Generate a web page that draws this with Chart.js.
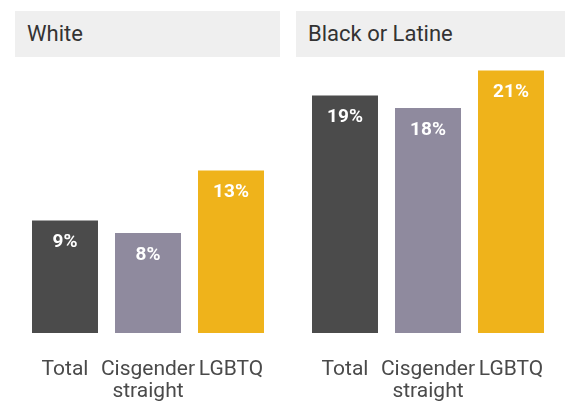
<!DOCTYPE html>
<html>
<head>
<meta charset="utf-8">
<script src="https://cdn.jsdelivr.net/npm/chart.js@4"></script>
<style>
  html, body { margin: 0; padding: 0; background: #ffffff; }
  body { width: 565px; height: 402px; position: relative; overflow: hidden; font-family: Roboto, sans-serif; }
  .hdr { position: absolute; top: 11px; height: 46px; background: #efefef; color: #333333;
         font-size: 22px; line-height: 46px; padding-left: 12px; box-sizing: border-box; z-index: 2; }
  .wrap { position: absolute; top: 0; height: 402px; }
</style>
</head>
<body>
<div class="hdr" style="left:15px;width:265px;">White</div>
<div class="hdr" style="left:296px;width:269px;">Black or Latine</div>
<div class="wrap" style="left:0;width:290px;"><canvas id="c1"></canvas></div>
<div class="wrap" style="left:280px;width:285px;"><canvas id="c2"></canvas></div>
<script>
const categories = [["Total"], ["Cisgender", "straight"], ["LGBTQ"]];
const whiteValues = [9, 8, 13];
const blackLatineValues = [19, 18, 21];
const barColors = ["#4b4b4b", "#8f8a9e", "#efb31b"];

const valueLabels = {
  id: "valueLabels",
  afterDatasetsDraw(chart) {
    const ctx = chart.ctx;
    const meta = chart.getDatasetMeta(0);
    const data = chart.data.datasets[0].data;
    ctx.save();
    ctx.fillStyle = "#ffffff";
    ctx.font = "bold 19px Roboto";
    ctx.textAlign = "center";
    ctx.textBaseline = "middle";
    meta.data.forEach((bar, i) => {
      ctx.fillText(data[i] + "%", bar.x, bar.y + 22);
    });
    ctx.restore();
  }
};

function makeChart(id, values, padL, padR) {
  new Chart(document.getElementById(id), {
    type: "bar",
    data: {
      labels: categories,
      datasets: [{
        data: values,
        backgroundColor: barColors,
        borderWidth: 0,
        categoryPercentage: 1.0,
        barPercentage: 0.795
      }]
    },
    options: {
      responsive: true,
      maintainAspectRatio: false,
      animation: false,
      events: [],
      layout: { padding: { left: padL, right: padR, top: 58, bottom: 0 } },
      plugins: { legend: { display: false }, tooltip: { enabled: false } },
      scales: {
        y: { display: false, min: 0, max: 22 },
        x: {
          grid: { display: false, drawTicks: true, tickLength: 8 },
          border: { display: false },
          ticks: { color: "#4a4a4a", font: { family: "Roboto", size: 21, lineHeight: 1.05 }, padding: 18, maxRotation: 0, autoSkip: false },
          afterFit(scale) { scale.height = 69; }
        }
      }
    },
    plugins: [valueLabels]
  });
}
makeChart("c1", whiteValues, 23.5, 17.5);
makeChart("c2", blackLatineValues, 23.5, 12.5);
</script>
</body>
</html>
